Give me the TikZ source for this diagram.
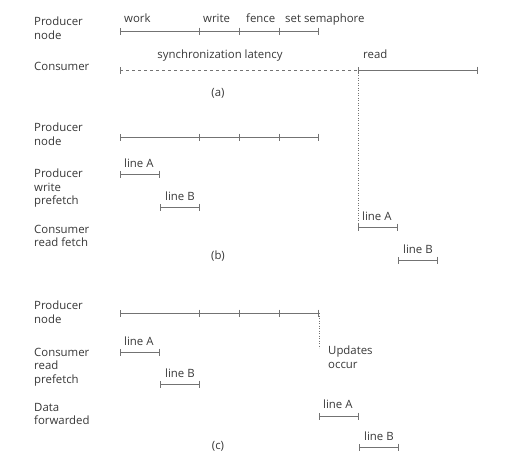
\documentclass[tikz,border=0pt]{standalone}
\usepackage{fontspec}
\setmainfont{Open Sans}
\usetikzlibrary{arrows.meta}
\newcommand{\producerrow}[2]{
    \foreach \i/\x in {0/120,1/200,2/240,3/280,4/319}
        \coordinate (#1\i) at (\x,#2);
    \draw[seg] (#10) -- (#11);
    \foreach \a/\b in {1/2,2/3,3/4}
        \draw[segend] (#1\a) -- (#1\b);
}

\begin{document}
\begin{tikzpicture}[x=1pt,y=-1pt,
    every node/.style={font=\fontsize{11.4}{13.5}\selectfont, text=black!78, inner sep=0pt},
    rowlabel/.style={anchor=north west, align=left},
    ticklabel/.style={anchor=base west},
    caption/.style={anchor=center},
    seg/.style={draw=black!55, line width=0.6pt, {Bar[width=7pt]}-{Bar[width=7pt]}},
    segend/.style={draw=black!55, line width=0.6pt, -{Bar[width=7pt]}},
    waitline/.style={draw=black!55, line width=0.6pt, dashed, {Bar[width=7pt]}-},
    marker/.style={draw=black!55, line width=0.5pt, dotted}]
    \useasboundingbox (0,0) rectangle (509,469);

    % (a)
    \node[rowlabel] (prodA) at (34,17) {Producer\\node};
    \node[rowlabel] (consA) at (34,62) {Consumer};
    \producerrow{pa}{31}
    \node[ticklabel] (work) at (124,22) {work};
    \node[ticklabel] (write) at (203,22) {write};
    \node[ticklabel] (fence) at (246,22) {fence};
    \node[ticklabel] (sema) at (285,22) {set semaphore};
    \coordinate (ca0) at (120,70);
    \coordinate (ca1) at (358,70);
    \coordinate (ca2) at (478,70);
    \draw[waitline] (ca0) -- (ca1);
    \draw[seg] (ca1) -- (ca2);
    \node[anchor=base] (latency) at (220,58) {synchronization latency};
    \node[ticklabel] (read) at (363,58) {read};
    \node[caption] (capA) at (218,93) {(a)};

    % (b)
    \node[rowlabel] (prodB) at (34,123) {Producer\\node};
    \node[rowlabel] (wpre) at (34,169) {Producer\\write\\prefetch};
    \node[rowlabel] (rfetch) at (34,225) {Consumer\\read fetch};
    \producerrow{pb}{137}
    \coordinate (wa0) at (120,174);
    \coordinate (wa1) at (160,174);
    \coordinate (wb0) at (160,207);
    \coordinate (wb1) at (200,207);
    \coordinate (fa0) at (358,227);
    \coordinate (fa1) at (398,227);
    \coordinate (fb0) at (398,260);
    \coordinate (fb1) at (438,260);
    \draw[seg] (wa0) -- (wa1);
    \draw[seg] (wb0) -- (wb1);
    \draw[seg] (fa0) -- (fa1);
    \draw[seg] (fb0) -- (fb1);
    \node[ticklabel] (wlA) at (124,167) {line A};
    \node[ticklabel] (wlB) at (165,200) {line B};
    \node[ticklabel] (flA) at (362,220) {line A};
    \node[ticklabel] (flB) at (403,253) {line B};
    \draw[marker] (ca1) -- (fa0);
    \node[caption] (capB) at (218,256) {(b)};

    % (c)
    \node[rowlabel] (prodC) at (34,301) {Producer\\node};
    \node[rowlabel] (rpre) at (34,348) {Consumer\\read\\prefetch};
    \node[rowlabel] (fwd) at (34,403) {Data\\forwarded};
    \producerrow{pc}{313}
    \coordinate (upd) at (319,348);
    \draw[marker] (pc4) -- (upd);
    \node[rowlabel] (updates) at (328,346) {Updates\\occur};
    \coordinate (ra0) at (120,352);
    \coordinate (ra1) at (160,352);
    \coordinate (rb0) at (160,384);
    \coordinate (rb1) at (200,384);
    \coordinate (da0) at (319,416);
    \coordinate (da1) at (359,416);
    \coordinate (db0) at (359,447);
    \coordinate (db1) at (399,447);
    \draw[seg] (ra0) -- (ra1);
    \draw[seg] (rb0) -- (rb1);
    \draw[seg] (da0) -- (da1);
    \draw[seg] (db0) -- (db1);
    \node[ticklabel] (rlA) at (124,345) {line A};
    \node[ticklabel] (rlB) at (165,377) {line B};
    \node[ticklabel] (dlA) at (323,408) {line A};
    \node[ticklabel] (dlB) at (364,440) {line B};
    \node[caption] (capC) at (218,446) {(c)};
\end{tikzpicture}
\end{document}
